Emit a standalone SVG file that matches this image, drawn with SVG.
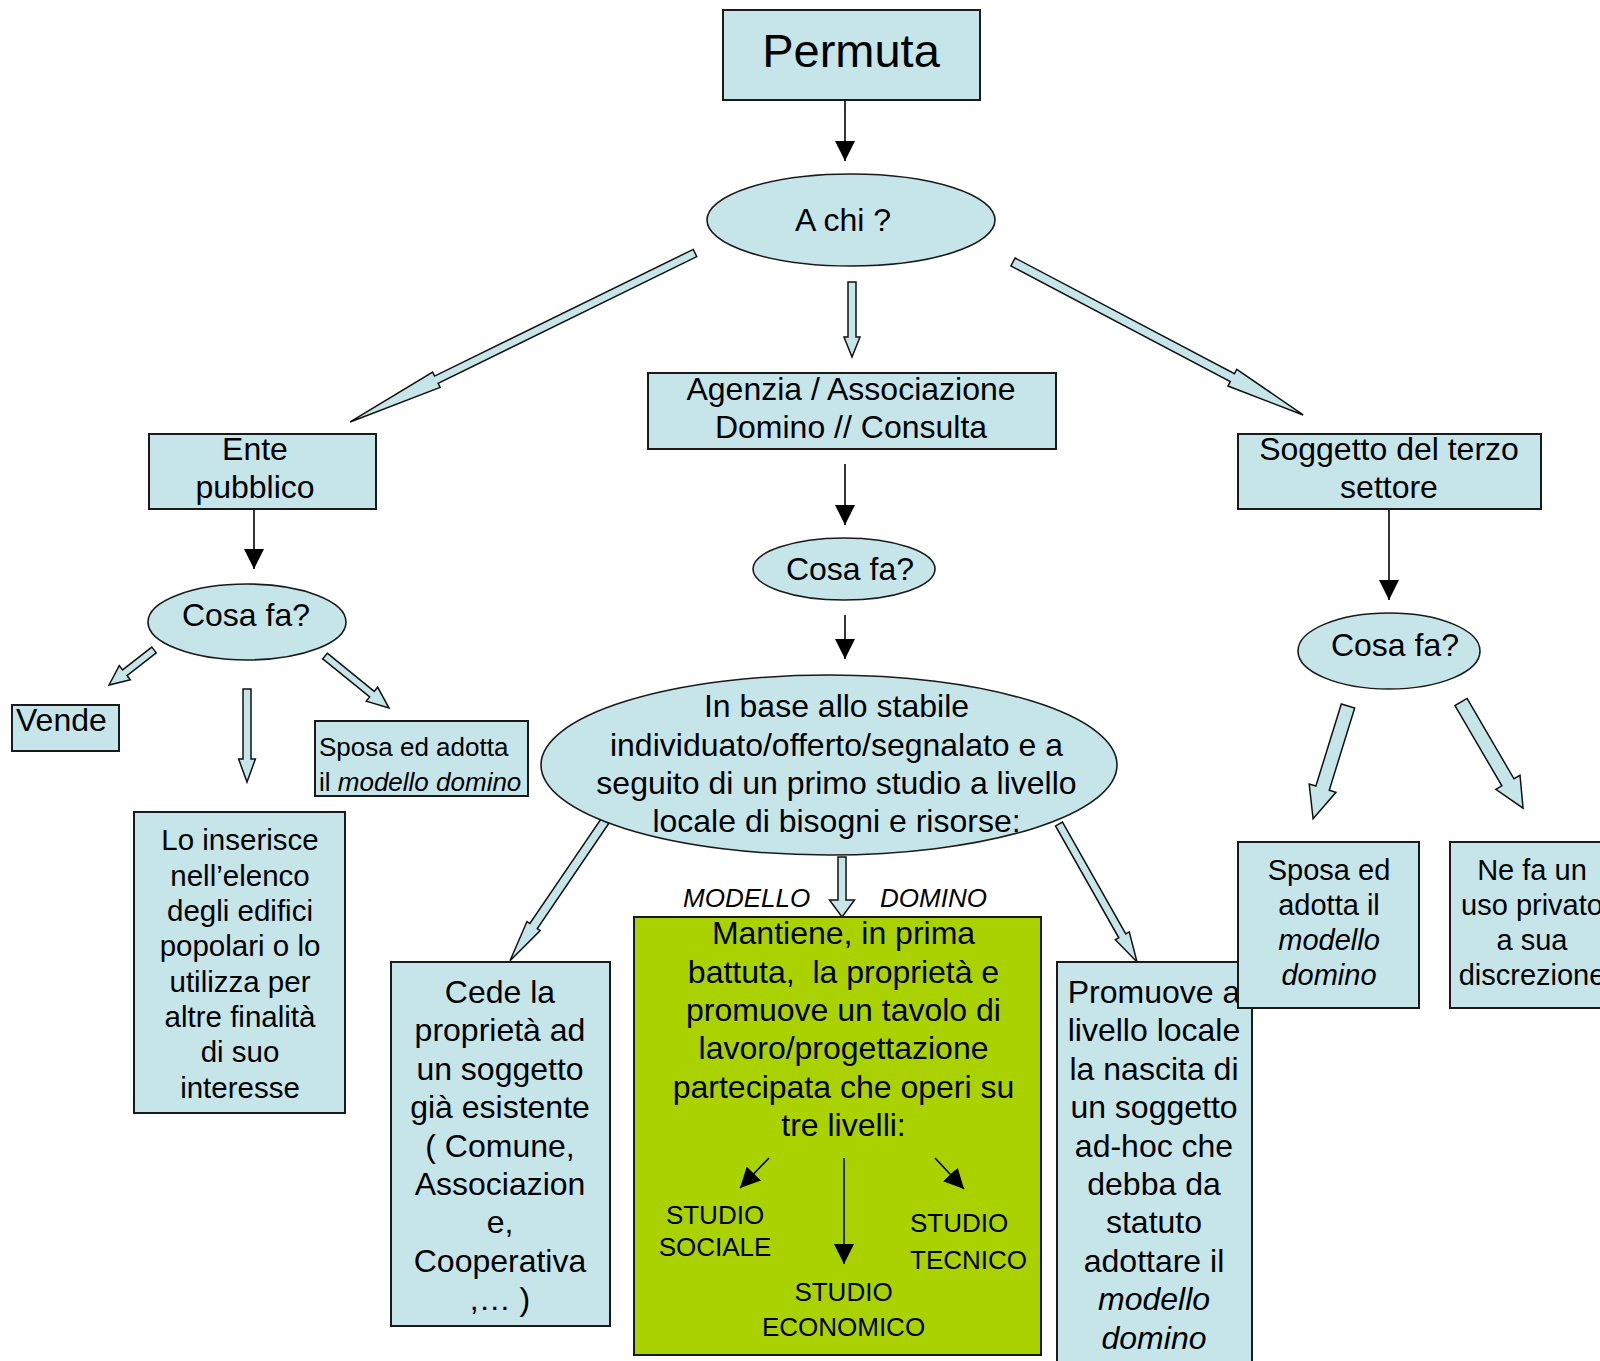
<svg xmlns="http://www.w3.org/2000/svg" width="1600" height="1361" viewBox="0 0 1600 1361">
<style>
text{font-family:"Liberation Sans",Arial,sans-serif;fill:#000}
.box{fill:#c5e5e9;stroke:#1a1a1a;stroke-width:2}
.ell{fill:#c5e5e9;stroke:#1a1a1a;stroke-width:1.6}
.green{fill:#aad200;stroke:#1a1a1a;stroke-width:2}
.blk{fill:#c5e5e9;stroke:#111;stroke-width:1.5;stroke-linejoin:miter}
.ln{stroke:#000;stroke-width:1.6;fill:none;marker-end:url(#ah)}
.f32{font-size:32px}
.f29{font-size:29px}
.f26{font-size:26px}
.c{text-anchor:middle}
.i{font-style:italic}
</style>
<defs>
<marker id="ah" viewBox="0 0 20 20" refX="20" refY="10" markerWidth="20" markerHeight="20" markerUnits="userSpaceOnUse" orient="auto">
<path d="M0,0 L20,10 L0,20 z" fill="#000"/>
</marker>
</defs>
<rect width="1600" height="1361" fill="#fff"/>

<g id="connectors">
<line class="ln" x1="845" y1="100" x2="845" y2="161"/>
<line class="ln" x1="254" y1="509" x2="254" y2="569"/>
<line class="ln" x1="845" y1="464" x2="845" y2="525"/>
<line class="ln" x1="845" y1="615" x2="845" y2="659"/>
<line class="ln" x1="1389" y1="509" x2="1389" y2="600"/>
<polygon class="blk" transform="translate(695,253) rotate(153.9)" points="0,-4 288,-4 288,-8.5 384,0 288,8.5 288,4 0,4"/>
<polygon class="blk" transform="translate(852,282) rotate(90)" points="0,-4 55,-4 55,-8 75,0 55,8 55,4 0,4"/>
<polygon class="blk" transform="translate(1013,262) rotate(27.8)" points="0,-4.5 248,-4.5 248,-9.5 328,0 248,9.5 248,4.5 0,4.5"/>
<polygon class="blk" transform="translate(154,650) rotate(142.1)" points="0,-3.6 37,-3.6 37,-9 57,0 37,9 37,3.6 0,3.6"/>
<polygon class="blk" transform="translate(247,689) rotate(90)" points="0,-4 70,-4 70,-8.4 93,0 70,8.4 70,4 0,4"/>
<polygon class="blk" transform="translate(325,656) rotate(39.1)" points="0,-3.6 60.5,-3.6 60.5,-9 82.5,0 60.5,9 60.5,3.6 0,3.6"/>
<polygon class="blk" transform="translate(605,821) rotate(124.2)" points="0,-4.5 127,-4.5 127,-8 169,0 127,8 127,4.5 0,4.5"/>
<polygon class="blk" transform="translate(842,857) rotate(90)" points="0,-4 43,-4 43,-12.5 60,0 43,12.5 43,4 0,4"/>
<polygon class="blk" transform="translate(1059,824) rotate(60.5)" points="0,-4 128.5,-4 128.5,-8 158.5,0 128.5,8 128.5,4 0,4"/>
<polygon class="blk" transform="translate(1348,706) rotate(107.2)" points="0,-7 86,-7 86,-14 118,0 86,14 86,7 0,7"/>
<polygon class="blk" transform="translate(1461,702) rotate(59.7)" points="0,-7 93,-7 93,-14 123,0 93,14 93,7 0,7"/>
</g>

<g id="permuta">
<rect class="box" x="723" y="10" width="257" height="90"/>
<text class="c" x="851" y="67" style="font-size:47px">Permuta</text>
</g>

<g id="achi">
<ellipse class="ell" cx="851" cy="220" rx="144" ry="46"/>
<text class="f32 c" x="843" y="231">A chi ?</text>
</g>

<g id="agenzia">
<rect class="box" x="648" y="373" width="408" height="76"/>
<text class="f32 c" x="851" y="400">Agenzia / Associazione</text>
<text class="f32 c" x="851" y="438">Domino // Consulta</text>
</g>

<g id="ente">
<rect class="box" x="149" y="434" width="227" height="75"/>
<text class="f32 c" x="255" y="460">Ente</text>
<text class="f32 c" x="255" y="498">pubblico</text>
</g>

<g id="soggetto">
<rect class="box" x="1238" y="434" width="303" height="75"/>
<text class="f32 c" x="1389" y="460">Soggetto del terzo</text>
<text class="f32 c" x="1389" y="498">settore</text>
</g>

<g id="cosafa-left">
<ellipse class="ell" cx="247" cy="622" rx="99" ry="38"/>
<text class="f32 c" x="246" y="626">Cosa fa?</text>
</g>

<g id="cosafa-mid">
<ellipse class="ell" cx="844" cy="569" rx="91" ry="31"/>
<text class="f32 c" x="850" y="580">Cosa fa?</text>
</g>

<g id="cosafa-right">
<ellipse class="ell" cx="1389" cy="651" rx="91" ry="38"/>
<text class="f32 c" x="1395" y="656">Cosa fa?</text>
</g>

<g id="vende">
<rect class="box" x="12" y="705" width="107" height="46"/>
<text class="f32" x="16" y="731">Vende</text>
</g>

<g id="sposa-left">
<rect class="box" x="315" y="721" width="213" height="75"/>
<text class="f26" x="319" y="756">Sposa ed adotta</text>
<text class="f26" x="319" y="791">il <tspan class="i">modello domino</tspan></text>
</g>

<g id="inserisce">
<rect class="box" x="134" y="812" width="211" height="301"/>
<g class="c" style="font-size:29.5px">
<text x="240" y="850">Lo inserisce</text>
<text x="240" y="885.5">nell’elenco</text>
<text x="240" y="921">degli edifici</text>
<text x="240" y="956">popolari o lo</text>
<text x="240" y="991.5">utilizza per</text>
<text x="240" y="1027">altre finalità</text>
<text x="240" y="1062">di suo</text>
<text x="240" y="1097.5">interesse</text>
</g>
</g>

<g id="base">
<ellipse class="ell" cx="829" cy="765" rx="288" ry="90"/>
<text class="f32 c" x="836.5" y="717">In base allo stabile</text>
<text class="f32 c" x="836.5" y="755.5">individuato/offerto/segnalato e a</text>
<text class="f32 c" x="836.5" y="794">seguito di un primo studio a livello</text>
<text class="f32 c" x="836.5" y="832">locale di bisogni e risorse:</text>
</g>

<g id="cede">
<rect class="box" x="391" y="962" width="219" height="364"/>
<g class="f32 c">
<text x="500" y="1003">Cede la</text>
<text x="500" y="1041.4">proprietà ad</text>
<text x="500" y="1079.8">un soggetto</text>
<text x="500" y="1118.2">già esistente</text>
<text x="500" y="1156.6">( Comune,</text>
<text x="500" y="1195">Associazion</text>
<text x="500" y="1233.4">e,</text>
<text x="500" y="1271.8">Cooperativa</text>
<text x="500" y="1310.2">,… )</text>
</g>
</g>

<g id="modello-label">
<text class="f26 i" x="683" y="907">MODELLO</text>
<text class="f26 i" x="880" y="907">DOMINO</text>
</g>

<g id="mantiene">
<rect class="green" x="634" y="917" width="407" height="438"/>
<g class="f32 c">
<text x="843.5" y="944">Mantiene, in prima</text>
<text x="843.5" y="982.5">battuta,&#160; la proprietà e</text>
<text x="843.5" y="1021">promuove un tavolo di</text>
<text x="843.5" y="1059">lavoro/progettazione</text>
<text x="843.5" y="1097.5">partecipata che operi su</text>
<text x="843.5" y="1136">tre livelli:</text>
</g>
<line class="ln" x1="769" y1="1158" x2="740" y2="1188"/>
<line class="ln" x1="844" y1="1158" x2="844" y2="1264"/>
<line class="ln" x1="935" y1="1158" x2="964" y2="1189"/>
<g class="f26">
<text class="c" x="715" y="1224">STUDIO</text>
<text class="c" x="715" y="1256">SOCIALE</text>
<text x="910" y="1232">STUDIO</text>
<text x="910" y="1269">TECNICO</text>
<text class="c" x="843.5" y="1301">STUDIO</text>
<text class="c" x="843.5" y="1336">ECONOMICO</text>
</g>
</g>

<g id="promuove">
<rect class="box" x="1057" y="962" width="195" height="420"/>
<g class="f32 c">
<text x="1154" y="1003">Promuove a</text>
<text x="1154" y="1041.4">livello locale</text>
<text x="1154" y="1079.8">la nascita di</text>
<text x="1154" y="1118.2">un soggetto</text>
<text x="1154" y="1156.6">ad-hoc che</text>
<text x="1154" y="1195">debba da</text>
<text x="1154" y="1233.4">statuto</text>
<text x="1154" y="1271.8">adottare il</text>
<text class="i" x="1154" y="1310.2">modello</text>
<text class="i" x="1154" y="1348.6">domino</text>
</g>
</g>

<g id="sposa-right">
<rect class="box" x="1238" y="842" width="181" height="166"/>
<g class="f29 c">
<text x="1329" y="880">Sposa ed</text>
<text x="1329" y="915">adotta il</text>
<text class="i" x="1329" y="950">modello</text>
<text class="i" x="1329" y="985">domino</text>
</g>
</g>

<g id="nefa">
<rect class="box" x="1450" y="842" width="170" height="166"/>
<g class="f29 c">
<text x="1532" y="880">Ne fa un</text>
<text x="1532" y="915">uso privato</text>
<text x="1532" y="950">a sua</text>
<text x="1532" y="985">discrezione</text>
</g>
</g>
</svg>
